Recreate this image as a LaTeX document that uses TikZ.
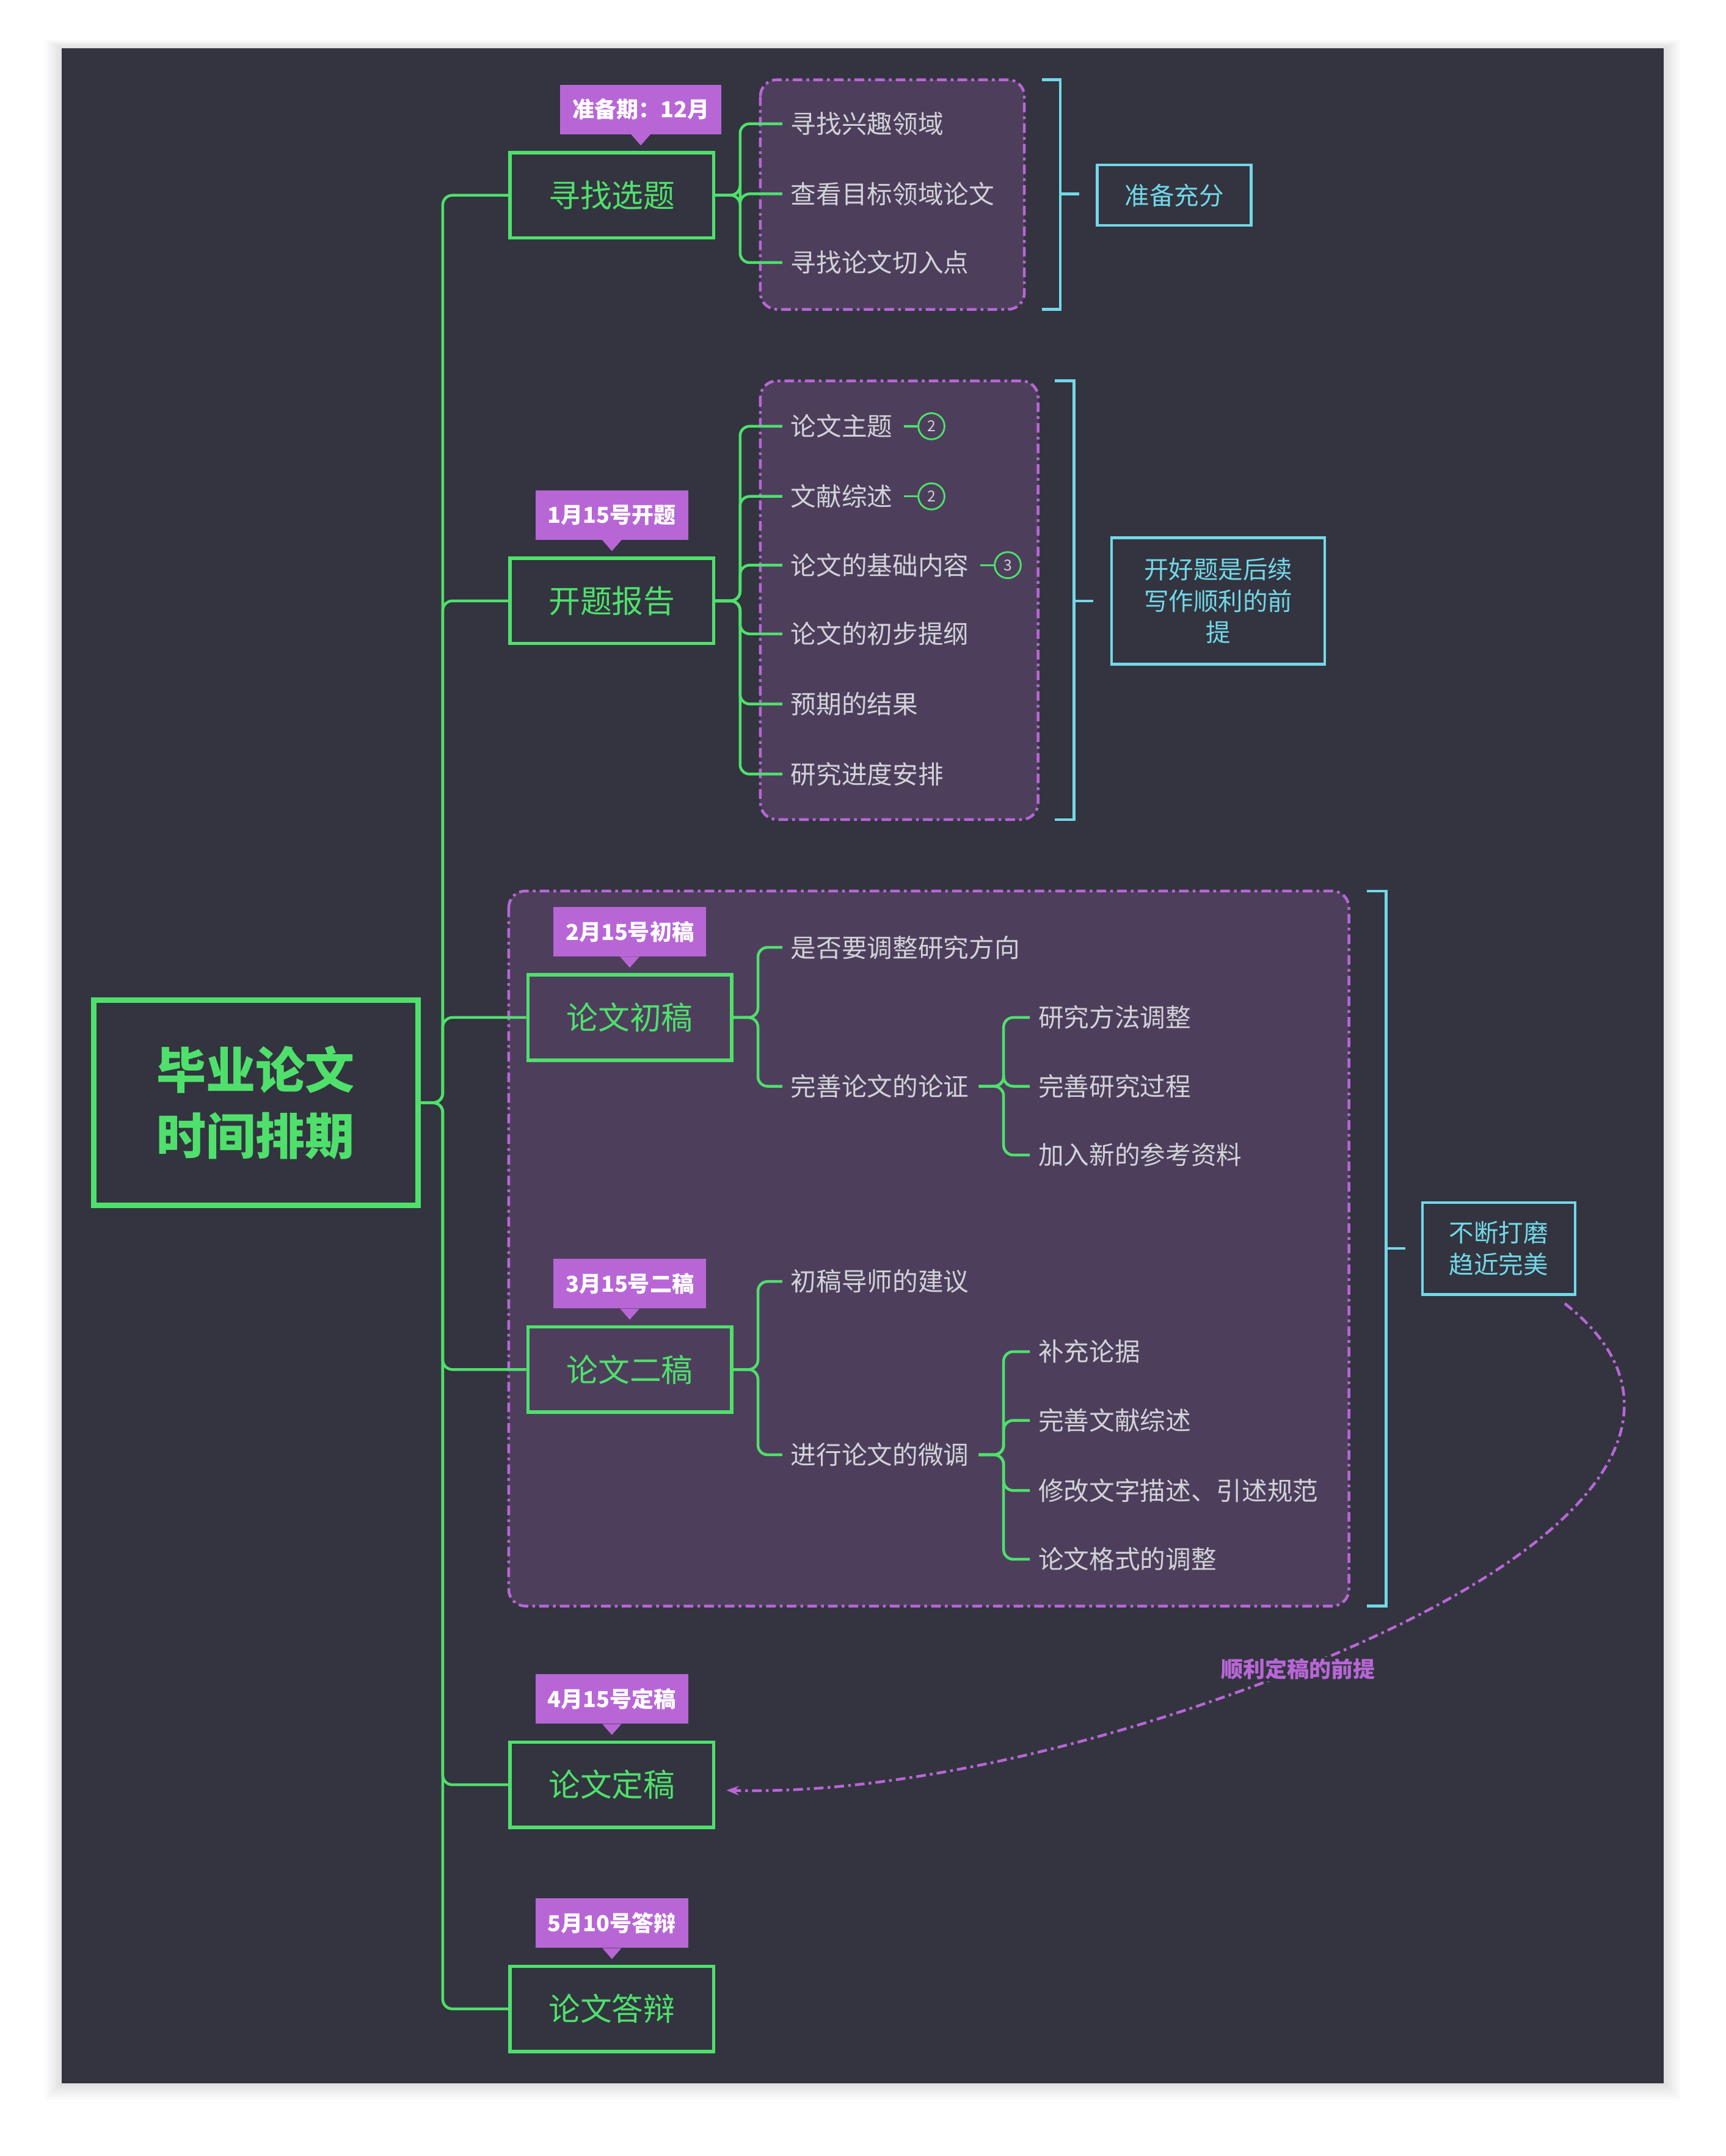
\documentclass[tikz,border=0pt]{standalone}
\usepackage{fontspec}
\setmainfont{Noto Sans CJK SC}
\usetikzlibrary{arrows.meta,shapes.geometric,calc}
\definecolor{bg}{HTML}{33343F}
\definecolor{gr}{HTML}{4FE06C}
\definecolor{pu}{HTML}{B866D6}
\definecolor{pf}{HTML}{4D3F5C}
\definecolor{cy}{HTML}{72D8E8}
\definecolor{tx}{HTML}{D2D2D8}
\begin{document}
\begin{tikzpicture}[x=1pt,y=-1pt,
 br/.style={draw=gr,line width=2.5pt,minimum width=148pt,minimum height=62pt,text=gr,font=\fontsize{23}{26}\selectfont,inner sep=0},
 lab/.style={fill=pu,text=white,font=\bfseries\fontsize{16}{18}\selectfont,minimum height=36pt,inner xsep=9pt},
 it/.style={text=tx,font=\fontsize{18.5}{21}\selectfont,anchor=west,inner sep=1pt},
 con/.style={draw=gr,line width=2pt,rounded corners=7pt},
 dbox/.style={draw=pu,fill=pf,line width=2pt,dash pattern=on 7pt off 3pt on 2pt off 3pt,rounded corners=12pt},
 brk/.style={draw=cy,line width=2pt},
 cbox/.style={draw=cy,line width=2pt,text=cy,font=\fontsize{18}{23}\selectfont,align=center,inner sep=0},
 num/.style={circle,draw=gr,line width=1.3pt,text=tx,font=\fontsize{11}{12}\selectfont,minimum size=19pt,inner sep=0}]
\useasboundingbox (0,0) rectangle (1255,1568);
\fill[white] (0,0) rectangle (1255,1568);
\foreach \i in {1,...,6} \fill[black,opacity=0.02] (45-2*\i,35-\i) rectangle (1210+2*\i,1515+2*\i);
\fill[bg] (45,35) rectangle (1210,1515);
% dashed boxes
\path[dbox] (553,58) rectangle (745,225);
\path[dbox] (553,277) rectangle (755,596);
\path[dbox] (370,648) rectangle (981,1168);
% root
\node[draw=gr,line width=4pt,minimum width=236pt,minimum height=149pt,text=gr,font=\bfseries\fontsize{36}{48}\selectfont,align=center] (root) at (186,802) {毕业论文\\时间排期};
% branches
\node[br] (b1) at (445,142) {寻找选题};
\node[br] (b2) at (445,437) {开题报告};
\node[br] (b3) at (458,740) {论文初稿};
\node[br] (b4) at (458,996) {论文二稿};
\node[br] (b5) at (445,1298) {论文定稿};
\node[br] (b6) at (445,1461) {论文答辩};
\node[lab,anchor=south] (lb1) at ($(b1.north)+(21,-12)$) {准备期：12月};
\fill[pu] ($(lb1.south)+(-7,0)$) -- ($(lb1.south)+(7,0)$) -- ($(lb1.south)+(0,8)$) -- cycle;
\foreach \b/\t in {b2/1月15号开题,b3/2月15号初稿,b4/3月15号二稿,b5/4月15号定稿,b6/5月10号答辩}{
 \node[lab,anchor=south] (l\b) at ($(\b.north)+(0,-12)$) {\t};
 \fill[pu] ($(l\b.south)+(-7,0)$) -- ($(l\b.south)+(7,0)$) -- ($(l\b.south)+(0,8)$) -- cycle;}
\foreach \b in {b1,b2,b3,b4,b5,b6} \draw[con] (root.east) -- ++(16,0) |- (\b.west);
% group 1
\node[it] (a1) at (574,90) {寻找兴趣领域};
\node[it] (a2) at (574,141) {查看目标领域论文};
\node[it] (a3) at (574,191) {寻找论文切入点};
\foreach \c in {a1,a2,a3} \draw[con] (b1.east) -- ++(18,0) |- ($(\c.west)+(-5,0)$);
% group 2
\node[it] (c1) at (574,310) {论文主题};
\node[it] (c2) at (574,361) {文献综述};
\node[it] (c3) at (574,411) {论文的基础内容};
\node[it] (c4) at (574,461) {论文的初步提纲};
\node[it] (c5) at (574,512) {预期的结果};
\node[it] (c6) at (574,563) {研究进度安排};
\foreach \c in {c1,c2,c3,c4,c5,c6} \draw[con] (b2.east) -- ++(18,0) |- ($(\c.west)+(-5,0)$);
\foreach \c/\n/\v in {c1/n1/2,c2/n2/2,c3/n3/3}{
 \node[num] (\n) at ($(\c.east)+(27,0)$) {\v};
 \draw[gr,line width=1.5pt] ($(\c.east)+(7,0)$) -- (\n.west);}
% group 3
\node[it] (d1) at (574,689) {是否要调整研究方向};
\node[it] (d2) at (574,790) {完善论文的论证};
\foreach \c in {d1,d2} \draw[con] (b3.east) -- ++(18,0) |- ($(\c.west)+(-5,0)$);
\node[it] (e1) at (754,740) {研究方法调整};
\node[it] (e2) at (754,790) {完善研究过程};
\node[it] (e3) at (754,840) {加入新的参考资料};
\foreach \c in {e1,e2,e3} \draw[con] ($(d2.east)+(6,0)$) -- ++(18,0) |- ($(\c.west)+(-5,0)$);
% group 4
\node[it] (f1) at (574,932) {初稿导师的建议};
\node[it] (f2) at (574,1058) {进行论文的微调};
\foreach \c in {f1,f2} \draw[con] (b4.east) -- ++(18,0) |- ($(\c.west)+(-5,0)$);
\node[it] (g1) at (754,983) {补充论据};
\node[it] (g2) at (754,1033) {完善文献综述};
\node[it] (g3) at (754,1084) {修改文字描述、引述规范};
\node[it] (g4) at (754,1134) {论文格式的调整};
\foreach \c in {g1,g2,g3,g4} \draw[con] ($(f2.east)+(6,0)$) -- ++(18,0) |- ($(\c.west)+(-5,0)$);
% brackets & summaries
\node[cbox,minimum width=112pt,minimum height=44pt] (s1) at (854,142) {准备充分};
\draw[brk] (758,58) -- (771,58) -- (771,225) -- (758,225);
\draw[brk] (771,141) -- ++(14,0);
\node[cbox,minimum width=155pt,minimum height=92pt] (s2) at (886,437) {开好题是后续\\写作顺利的前\\提};
\draw[brk] (767,277) -- (781,277) -- (781,596) -- (767,596);
\draw[brk] (781,437) -- ++(14,0);
\node[cbox,minimum width=111pt,minimum height=67pt] (s3) at (1090,908) {不断打磨\\趋近完美};
\draw[brk] (994,648) -- (1008,648) -- (1008,1168) -- (994,1168);
\draw[brk] (1008,908) -- ++(14,0);
% relation
\draw[pu,line width=2pt,dash pattern=on 7pt off 3pt on 2pt off 3pt,-{Stealth[length=9pt]}] (1138,948) .. controls (1230,1020) and (1180,1120) .. (944,1214) .. controls (790,1275) and (640,1305) .. ($(b5.east)+(8,4)$);
\node[text=pu,font=\bfseries\fontsize{16}{18}\selectfont,fill=bg,inner sep=1pt] at (944,1214) {顺利定稿的前提};
\end{tikzpicture}
\end{document}
